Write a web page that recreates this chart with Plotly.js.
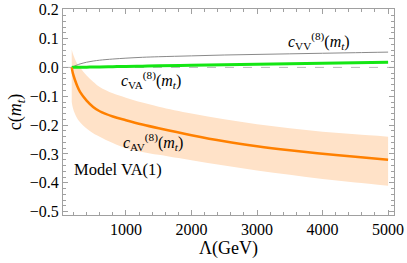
<!DOCTYPE html>
<html>
<head>
<meta charset="utf-8">
<script src="https://cdn.plot.ly/plotly-3.0.1.min.js"></script>
<style>html,body{margin:0;padding:0;background:#fff}#chart{width:407px;height:263px}</style>
</head>
<body>
<div id="chart"></div>
<script>
// Λ (GeV) sample points
const lambda = [173, 190, 220, 260, 300, 400, 500, 600, 800, 1000, 1250, 1500, 2000, 2500, 3000, 3500, 4000, 4500, 5000];
// c_AV^(8)(m_t) central curve
const cAV = [0, -0.02, -0.042, -0.066, -0.085, -0.115, -0.137, -0.152, -0.170, -0.183, -0.198, -0.211, -0.235, -0.256, -0.273, -0.287, -0.299, -0.310, -0.320];
// band upper / lower edges
const cAVhi = [0.062, 0.048, 0.030, 0.012, 0.0, -0.028, -0.050, -0.068, -0.090, -0.105, -0.122, -0.136, -0.160, -0.180, -0.197, -0.211, -0.223, -0.232, -0.240];
const cAVlo = [-0.12, -0.14, -0.16, -0.178, -0.19, -0.212, -0.228, -0.240, -0.262, -0.280, -0.293, -0.303, -0.322, -0.340, -0.357, -0.372, -0.387, -0.399, -0.410];
// c_VV^(8)(m_t)
const cVV = [0, 0.002, 0.005, 0.009, 0.012, 0.018, 0.022, 0.025, 0.029, 0.032, 0.035, 0.037, 0.040, 0.043, 0.045, 0.047, 0.049, 0.051, 0.053];
// c_VA^(8)(m_t)
const cVA = [0, 0.0001, 0.0002, 0.0004, 0.0005, 0.0009, 0.0013, 0.0017, 0.0025, 0.0033, 0.0043, 0.0053, 0.0073, 0.0093, 0.0110, 0.0128, 0.0146, 0.0163, 0.0180];

const xTicks = [1000, 2000, 3000, 4000, 5000];
const yTicks = [0.2, 0.1, 0.0, -0.1, -0.2, -0.3, -0.4, -0.5];
const yTickText = ['0.2', '0.1', '0.0', '\u22120.1', '\u22120.2', '\u22120.3', '\u22120.4', '\u22120.5'];

const serif = 'Liberation Serif';

const traces = [
  {x: lambda, y: cAVhi, mode: 'lines', line: {width: 0, color: 'rgba(0,0,0,0)', shape: 'spline'}, hoverinfo: 'skip', showlegend: false},
  {x: lambda, y: cAVlo, mode: 'lines', fill: 'tonexty', fillcolor: 'rgb(255,226,200)', line: {width: 0, color: 'rgba(0,0,0,0)', shape: 'spline'}, hoverinfo: 'skip', showlegend: false},
  {x: lambda, y: cVV, mode: 'lines', line: {color: '#8a8a8a', width: 1, shape: 'spline'}, showlegend: false},
  {x: lambda, y: cVA, mode: 'lines', line: {color: 'rgb(20,230,20)', width: 3, shape: 'spline'}, showlegend: false},
  {x: lambda, y: cAV, mode: 'lines', line: {color: 'rgb(255,128,0)', width: 2.5, shape: 'spline'}, showlegend: false}
];

const axCommon = {
  showgrid: false, zeroline: false, showline: true, mirror: 'ticks',
  linecolor: '#a0a0a0', linewidth: 1, ticks: 'inside', tickcolor: '#a0a0a0', ticklen: 5, tickwidth: 1,
  tickfont: {family: serif, size: 16, color: '#000'}
};

const layout = {
  width: 407, height: 263,
  margin: {l: 63, r: 13, t: 9, b: 48},
  paper_bgcolor: '#fff', plot_bgcolor: '#fff',
  font: {family: serif, color: '#000'},
  xaxis: Object.assign({}, axCommon, {
    range: [40, 5090], tickmode: 'array', tickvals: xTicks,
    minor: {ticks: 'inside', dtick: 200, tick0: 0, ticklen: 3, tickcolor: '#a0a0a0'},
    title: {text: '\u039b(GeV)', font: {family: serif, size: 18}, standoff: 4}
  }),
  yaxis: Object.assign({}, axCommon, {
    range: [-0.5115, 0.2024], tickmode: 'array', tickvals: yTicks, ticktext: yTickText,
    minor: {ticks: 'inside', dtick: 0.02, tick0: 0, ticklen: 3, tickcolor: '#a0a0a0'},
    title: {text: 'c(<i>m</i><sub><i>t</i></sub>)', font: {family: serif, size: 18}, standoff: 3}
  }),
  shapes: [
    {type: 'line', xref: 'paper', x0: 0, x1: 1, yref: 'y', y0: 0, y1: 0, line: {color: '#b8b8b8', width: 1, dash: 'dash'}, layer: 'below'}
  ],
  annotations: [
    {x: 3950, y: 0.09, xref: 'x', yref: 'y', showarrow: false, xanchor: 'center', yanchor: 'middle',
     text: '<i>c</i><sub>VV</sub><sup>(8)</sup>(<i>m</i><sub><i>t</i></sub>)', font: {family: serif, size: 16}},
    {x: 900, y: -0.042, xref: 'x', yref: 'y', showarrow: false, xanchor: 'left', yanchor: 'middle',
     text: '<i>c</i><sub>VA</sub><sup>(8)</sup>(<i>m</i><sub><i>t</i></sub>)', font: {family: serif, size: 16}},
    {x: 920, y: -0.26, xref: 'x', yref: 'y', showarrow: false, xanchor: 'left', yanchor: 'middle',
     text: '<i>c</i><sub>AV</sub><sup>(8)</sup>(<i>m</i><sub><i>t</i></sub>)', font: {family: serif, size: 16}},
    {x: 170, y: -0.354, xref: 'x', yref: 'y', showarrow: false, xanchor: 'left', yanchor: 'middle',
     text: 'Model VA(1)', font: {family: serif, size: 16.5}}
  ]
};

Plotly.newPlot('chart', traces, layout, {staticPlot: true, displayModeBar: false});
</script>
</body>
</html>
